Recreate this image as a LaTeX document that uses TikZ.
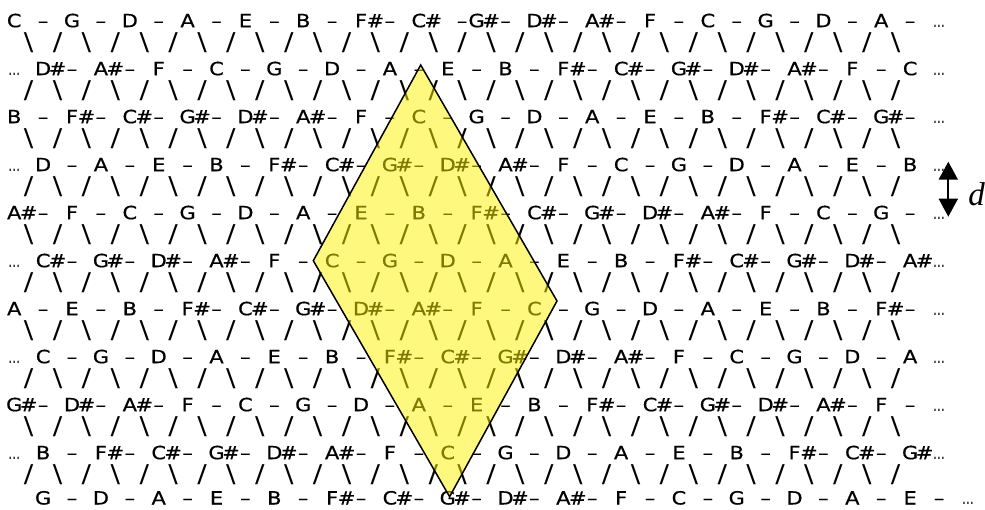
\documentclass[tikz,border=0pt]{standalone}
\usepackage{fontspec}
\newfontfamily\gridfont[FakeStretch=1.15,FakeBold=0.6]{DejaVu Sans}
\newfontfamily\linkfont[FakeStretch=1.15]{DejaVu Sans}
\newfontfamily\dotfont[FakeStretch=0.65]{DejaVu Sans}
\newfontfamily\labelfont{Liberation Serif}
\usetikzlibrary{arrows.meta}
\newcommand\pitchletter[1]{\ifcase#1 C\or C\or D\or D\or E\or F\or F\or G\or G\or A\or A\or B\fi}
\tikzset{
  glyph/.style={inner sep=0pt, outer sep=0pt, anchor=base, font=\gridfont\fontsize{18.2}{20}\selectfont},
  dotglyph/.style={inner sep=0pt, outer sep=0pt, anchor=base, font=\dotfont\fontsize{18.2}{20}\selectfont},
  linkglyph/.style={inner sep=0pt, outer sep=0pt, anchor=center, font=\linkfont\fontsize{24.5}{28}\selectfont},
  region/.style={draw=black, line width=1.5pt, fill=yellow, fill opacity=0.5, line join=miter},
  dimarrow/.style={line width=2pt, {Triangle[width=19pt,length=18pt]}-{Triangle[width=19pt,length=18pt]}},
  dimlabel/.style={inner sep=0pt, anchor=base, font=\labelfont\itshape\fontsize{33}{36}\selectfont},
}
\begin{document}
\begin{tikzpicture}[x=1pt,y=-1pt]
\fill[white] (0,0) rectangle (985,509);
\useasboundingbox (0,0) rectangle (985,509);
% note rows: row / baseline / first cell / pitch offset / number of dashes / leading dots / trailing dots cell
\foreach \r/\by/\fc/\bo/\nd/\ld/\tr in {0/27.2/0/0/16/0/64, 1/75.2/2/3/15/1/64, 2/123.2/0/-1/16/0/64, 3/171.2/2/2/15/1/64, 4/219.2/0/-2/16/0/64, 5/267.2/2/1/15/1/64, 6/315.2/0/-3/16/0/64, 7/363.2/2/0/15/1/64, 8/411.2/0/-4/16/0/64, 9/459.2/2/-1/15/1/64, 10/504.5/2/-5/16/0/66}{
  \foreach \k in {0,...,15}{
    \pgfmathtruncatemacro\p{mod(7*\k+\bo+120,12)}
    \pgfmathtruncatemacro\sh{{0,1,0,1,0,0,1,0,1,0,1,0}[\p]}
    \pgfmathsetmacro\nx{7+(\fc+4*\k+0.5)*14.45}
    \pgfmathsetmacro\shx{\nx+14.45}
    \node[glyph] (n\r-\k) at (\nx,\by) {\pitchletter{\p}};
    \ifnum\sh=1 \node[glyph] (s\r-\k) at (\shx,\by) {\#};\fi
    \ifnum\k<\nd
      \pgfmathsetmacro\hx{\nx+2*14.45+(((\r==0)&&(\k==7)) ? 14.45 : 0)}
      \node[glyph] (h\r-\k) at (\hx,\by) {–};
    \fi
  }
  \pgfmathsetmacro\ax{7+0.5*14.45}
  \pgfmathsetmacro\zx{7+(\tr+0.5)*14.45}
  \ifnum\ld=1 \node[dotglyph] (a\r) at (\ax,\by) {…};\fi
  \node[dotglyph] (z\r) at (\zx,\by) {…};
}
% link rows
\foreach \j in {0,...,9}{
  \pgfmathsetmacro\sy{42.5+48*\j}
  \foreach \i in {0,...,30}{
    \pgfmathsetmacro\sx{7+(2*\i+1.5)*14.45}
    \pgfmathtruncatemacro\pp{mod(\i+\j,2)}
    \ifnum\pp=0 \node[linkglyph] (l\j-\i) at (\sx,\sy) {\textbackslash};
    \else \node[linkglyph] (l\j-\i) at (\sx,\sy) {/};\fi
  }
}
% highlighted region
\coordinate (rt) at (420.7,65);
\coordinate (rl) at (313.3,260.7);
\coordinate (rr) at (557,301);
\coordinate (rb) at (449.6,496.7);
\draw[region] (rt) -- (rr) -- (rb) -- (rl) -- cycle;
% distance marker
\coordinate (dtop) at (948.3,161.7);
\coordinate (dbot) at (948.3,216.7);
\draw[dimarrow] (dtop) -- (dbot);
\node[dimlabel] (dlab) at (976.5,205) {d};
\end{tikzpicture}
\end{document}
